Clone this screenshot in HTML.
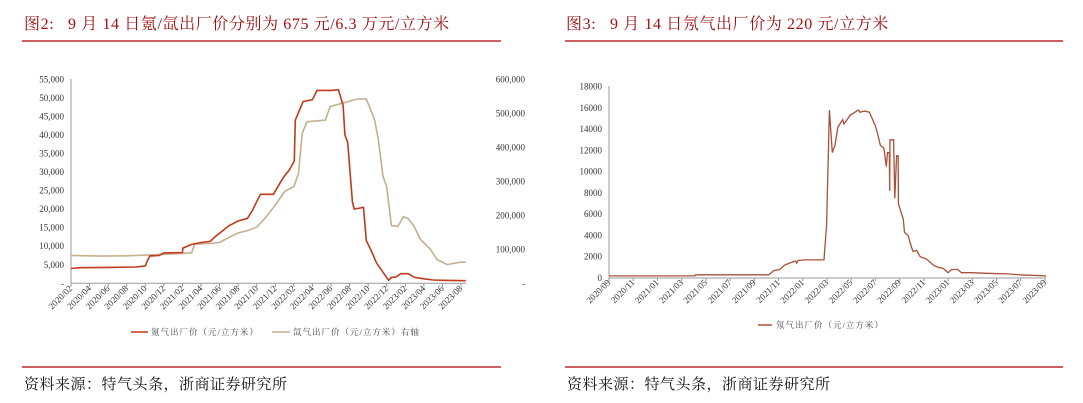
<!DOCTYPE html>
<html><head><meta charset="utf-8"><style>
body{margin:0;background:#fff;width:1083px;height:403px;overflow:hidden}
svg{display:block;font-family:"Liberation Serif","Noto Serif CJK SC",serif}
.ttl{white-space:pre;letter-spacing:0.6px}
.src{letter-spacing:0.5px}
</style></head><body>
<svg id="s" width="1083" height="403" viewBox="0 0 1083 403">
<text class="ttl" x="24" y="29" font-size="16" fill="#a01010">图2:   9 月 14 日氪/氙出厂价分别为 675 元/6.3 万元/立方米</text>
<line x1="22" y1="41" x2="501" y2="41" stroke="#b00000" stroke-width="1.2"/>
<line x1="22" y1="367" x2="501" y2="367" stroke="#b00000" stroke-width="1.2"/>
<text class="src" x="24" y="389" font-size="15" fill="#111">资料来源：特气头条，浙商证券研究所</text>
<text class="ttl" x="566" y="29" font-size="16" fill="#a01010">图3:   9 月 14 日氖气出厂价为 220 元/立方米</text>
<line x1="565" y1="41" x2="1063" y2="41" stroke="#b00000" stroke-width="1.2"/>
<line x1="565" y1="367" x2="1063" y2="367" stroke="#b00000" stroke-width="1.2"/>
<text class="src" x="567" y="389" font-size="15" fill="#111">资料来源：特气头条，浙商证券研究所</text>
<g id="c1"></g>
<g id="c2"></g>
</svg>
<script>
// Chart 1 data (month index from 2020/02)
const krMonths=[0,1,4,7,8,8.3,8.5,9.5,10,12,12.05,13,14,15,15.5,16,17,18,19,19.5,20,20.4,21.8,22.5,23,23.5,24.05,24.15,25,26,26.5,28,28.8,29.3,29.5,29.8,30.3,30.5,31.5,31.8,32.3,32.9,33.6,34.2,34.5,35,35.5,36.3,37,38,39,40,42.5];
const krValues=[4000,4200,4300,4400,4700,6500,7400,7500,8200,8300,9500,10500,11000,11300,12500,13500,15500,16800,17500,19500,22000,24000,24000,27000,29000,30500,33000,44000,49000,49500,52000,52000,52200,48000,40000,38000,22000,20000,20500,11500,9000,5500,3000,800,1600,1700,2600,2600,1600,1200,900,800,700];
const xeMonths=[0,3,6,9,12,13,13.3,15,16,17,18,19,20,21,22,23,24,24.5,24.9,25.4,27.4,27.9,29,30.8,31.8,32.2,32.7,33.1,33.6,34,34.5,35.2,35.8,36.3,36.9,37.6,38.7,39.4,40.5,41.9,42.5];
const xeValues=[82000,80000,81000,84000,88000,90000,115000,117000,120000,135000,148000,155000,165000,195000,230000,270000,285000,323000,441000,475000,480000,520000,528000,542000,542000,515000,480000,421000,314000,284000,170000,167000,196000,190000,170000,130000,100000,70000,55000,62000,62000];
const c1TickLabels=["2020/02","2020/04","2020/06","2020/08","2020/10","2020/12","2021/02","2021/04","2021/06","2021/08","2021/10","2021/12","2022/02","2022/04","2022/06","2022/08","2022/10","2022/12","2023/02","2023/04","2023/06","2023/08"];
const c1LeftTicks=[0,5000,10000,15000,20000,25000,30000,35000,40000,45000,50000,55000];
const c1RightTicks=[0,100000,200000,300000,400000,500000,600000];
// Chart 2 data (month index from 2020/09)
const neMonths=[0,7.1,7.15,13.2,13.6,14.1,14.5,14.9,15.4,15.5,15.6,16.2,17.75,17.8,17.97,18.2,18.44,18.66,18.9,19.3,19.4,19.6,19.9,20.45,20.6,20.7,21.1,21.5,22.0,22.2,22.4,22.7,22.9,23.0,23.15,23.18,23.2,23.5,23.6,23.75,23.88,23.9,24.3,24.4,24.7,24.9,25.1,25.4,25.7,26.2,26.8,27.2,27.6,28.0,28.3,28.8,29.1,29.9,30.9,33.1,33.9,36.0,36.1];
const neValues=[200,200,300,300,700,800,1200,1400,1600,1400,1650,1700,1700,2500,5000,15800,11800,12500,14200,14900,14500,14800,15300,15700,15800,15600,15700,15600,14300,13500,12500,12200,10500,11800,11800,8200,13000,13000,7500,11500,11500,7000,5500,4300,4000,3200,2500,2600,2000,1800,1200,1000,900,500,800,800,500,500,450,380,300,200,200];
const c2TickLabels=["2020/09","2020/11","2021/01","2021/03","2021/05","2021/07","2021/09","2021/11","2022/01","2022/03","2022/05","2022/07","2022/09","2022/11","2023/01","2023/03","2023/05","2023/07","2023/09"];
const c2Ticks=[0,2000,4000,6000,8000,10000,12000,14000,16000,18000];

const NS="http://www.w3.org/2000/svg";
function mk(parent,tag,attrs,text){const e=document.createElementNS(NS,tag);for(const k in attrs)e.setAttribute(k,attrs[k]);if(text!==undefined)e.textContent=text;parent.appendChild(e);return e;}
const fmt=v=>v===0?"-":v.toLocaleString("en-US");

// chart 1
const g1=document.getElementById('c1');
const x1=m=>71+m*9.286;
const yL=v=>283.3-v/55000*204;
const yR=v=>283.3-v/600000*204;
let e;
e=mk(g1,'line',{x1:71,y1:79,x2:71,y2:283.3,stroke:'#999','stroke-width':1});


e=mk(g1,'line',{x1:71,y1:283.3,x2:466,y2:283.3,stroke:'#999','stroke-width':1});


c1LeftTicks.forEach(v=>{e=mk(g1,'text',{x:64,y:yL(v)+3,'font-size':9,'text-anchor':'end',fill:'#333'},fmt(v));

});
c1RightTicks.forEach(v=>{e=mk(g1,'text',{x:525,y:yR(v)+3,'font-size':9,'text-anchor':'end',fill:'#333'},fmt(v));

});
c1TickLabels.forEach((t,i)=>{const x=x1(i*2);
mk(g1,'line',{x1:x,y1:283.3,x2:x,y2:287,stroke:'#999'});
e=mk(g1,'text',{x:x+2,y:289,'font-size':9,'text-anchor':'end',fill:'#333',transform:`rotate(-45 ${x+2} 289)`},t);

});
e=mk(g1,'polyline',{points:xeMonths.map((m,i)=>x1(m).toFixed(1)+','+yR(xeValues[i]).toFixed(1)).join(' '),fill:'none',stroke:'#c4b08f','stroke-width':1.6});


e=mk(g1,'polyline',{points:krMonths.map((m,i)=>x1(m).toFixed(1)+','+yL(krValues[i]).toFixed(1)).join(' '),fill:'none',stroke:'#c0391b','stroke-width':1.6});


mk(g1,'line',{x1:131,y1:332,x2:148,y2:332,stroke:'#c0391b','stroke-width':1.6});
e=mk(g1,'text',{x:151,y:335,'font-size':8.5,fill:'#444','letter-spacing':1},'氪气出厂价（元/立方米）');


mk(g1,'line',{x1:272,y1:332,x2:290,y2:332,stroke:'#c4b08f','stroke-width':1.6});
e=mk(g1,'text',{x:293,y:335,'font-size':8.5,fill:'#444','letter-spacing':1},'氙气出厂价（元/立方米）右轴');



// chart 2
const g2=document.getElementById('c2');
const x2=m=>609+m*12.11;
const y2=v=>278-v/18000*191.3;
e=mk(g2,'line',{x1:609,y1:86,x2:609,y2:278,stroke:'#999'});


e=mk(g2,'line',{x1:609,y1:278,x2:1046,y2:278,stroke:'#999'});


c2Ticks.forEach(v=>{e=mk(g2,'text',{x:602,y:y2(v)+3,'font-size':9,'text-anchor':'end',fill:'#333'},String(v));

});
c2TickLabels.forEach((t,i)=>{const x=x2(i*2);
mk(g2,'line',{x1:x,y1:278,x2:x,y2:281,stroke:'#999'});
e=mk(g2,'text',{x:x+2,y:283,'font-size':9,'text-anchor':'end',fill:'#333',transform:`rotate(-45 ${x+2} 283)`},t);

});
e=mk(g2,'polyline',{points:neMonths.map((m,i)=>x2(m).toFixed(1)+','+y2(neValues[i]).toFixed(1)).join(' '),fill:'none',stroke:'#a8503a','stroke-width':1.3});


mk(g2,'line',{x1:758,y1:325,x2:772,y2:325,stroke:'#a8503a','stroke-width':1.5});
e=mk(g2,'text',{x:776,y:328,'font-size':8.5,fill:'#444','letter-spacing':1},'氖气出厂价（元/立方米）');


</script>
</body></html>
